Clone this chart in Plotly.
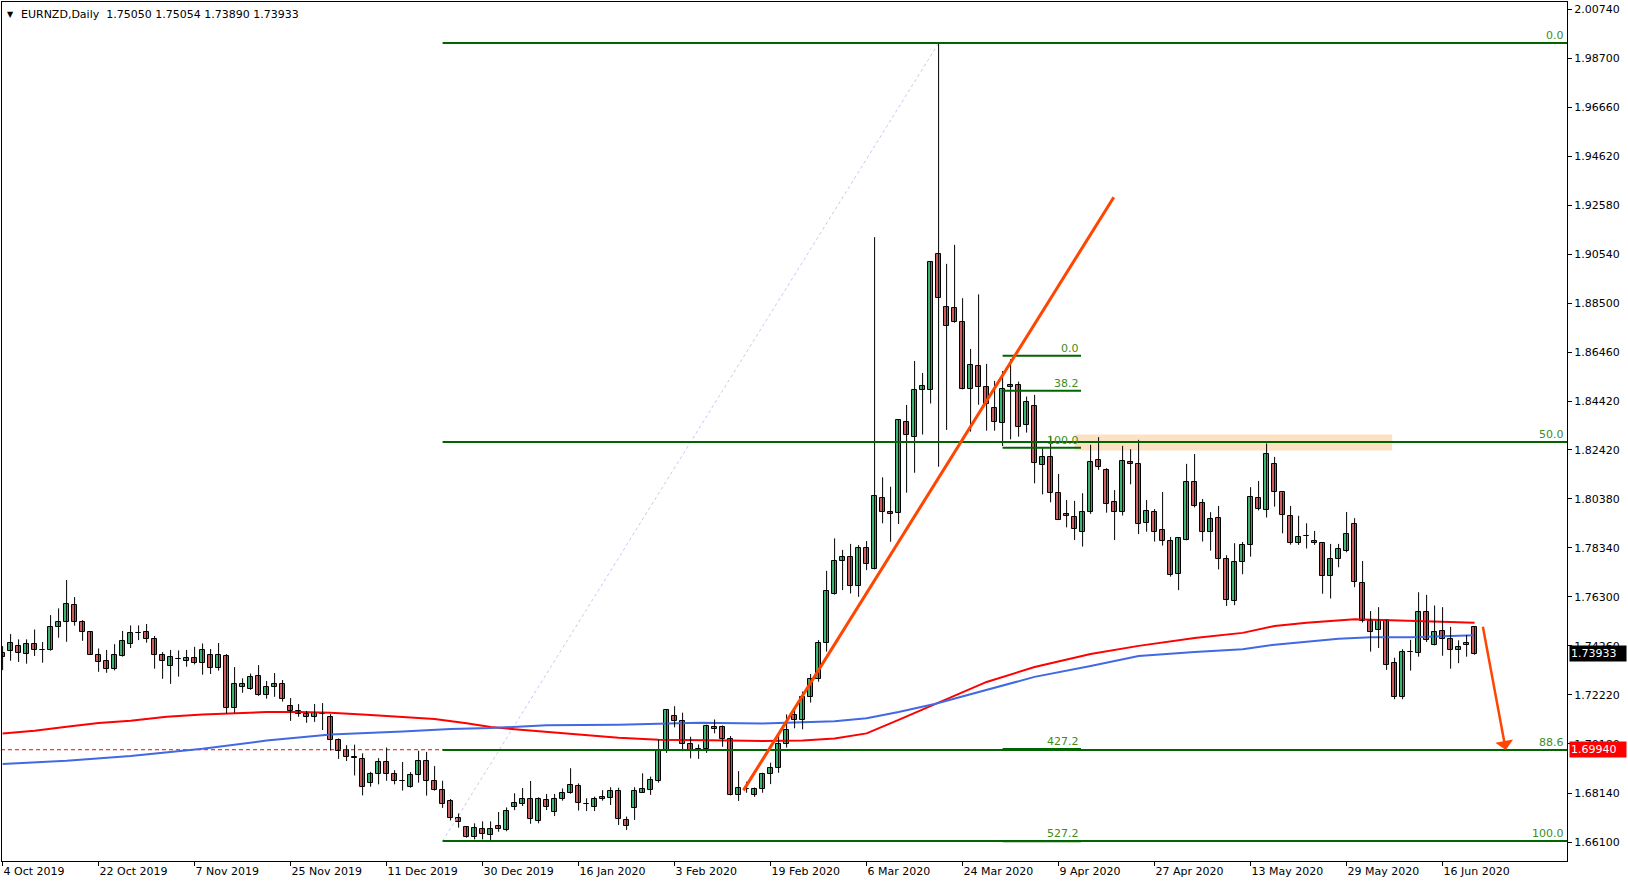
import plotly.graph_objects as go

# ---------------- data ----------------
opens = [1.7395,1.7403,1.7424,1.7393,1.7432,1.7408,1.7410,1.7503,1.7524,1.7594,
         1.7524,1.7482,1.7390,1.7361,1.7328,1.7385,1.7432,1.7481,1.7482,1.7454,
         1.7386,1.7343,1.7372,1.7364,1.7374,1.7353,1.7390,1.7335,1.7382,1.7166,
         1.7257,1.7245,1.7299,1.7220,1.7253,1.7266,1.7174,1.7157,1.7142,1.7132,
         1.7144,1.7130,1.7033,1.6992,1.6962,1.6954,1.6854,1.6891,1.6942,1.6895,
         1.6864,1.6838,1.6888,1.6946,1.6864,1.6826,1.6779,1.6709,1.6673,1.6630,
         1.6663,1.6641,1.6677,1.6659,1.6757,1.6770,1.6788,1.6699,1.6785,1.6734,
         1.6788,1.6813,1.6842,1.6769,1.6757,1.6788,1.6795,1.6821,1.6700,1.6750,
         1.6815,1.6828,1.6865,1.6992,1.7134,1.7113,1.7016,1.6988,1.6998,1.7081,
         1.7087,1.7039,1.6804,1.6832,1.6806,1.6829,1.6895,1.6916,1.7016,1.7137,
         1.7116,1.7212,1.7287,1.7437,1.7640,1.7778,1.7794,1.7676,1.7832,1.7744,
         1.8040,1.7984,1.7977,1.8356,1.8293,1.8489,1.8489,1.9056,1.8834,1.8830,
         1.8775,1.8496,1.8588,1.8502,1.8414,1.8354,1.8502,1.8511,1.8345,1.8425,
         1.8177,1.8213,1.8060,1.7974,1.7963,1.7898,1.7982,1.8198,1.8156,1.8023,
         1.7982,1.8191,1.8181,1.7936,1.7982,1.7907,1.7861,1.7724,1.7865,1.8106,
         1.8019,1.7898,1.7957,1.7789,1.7612,1.7774,1.7845,1.8040,1.7990,1.8182,
         1.8065,1.7965,1.7853,1.7882,1.7861,1.7853,1.7716,1.7786,1.7822,1.7933,
         1.7686,1.7530,1.7491,1.7534,1.7354,1.7215,1.7400,1.7395,1.7566,1.7428,
         1.7487,1.7453,1.7408,1.7428,1.75050]
highs = [1.7425,1.7475,1.7453,1.7453,1.7494,1.7442,1.7554,1.7582,1.7700,1.7629,
         1.7533,1.7485,1.7415,1.7409,1.7433,1.7488,1.7511,1.7511,1.7517,1.7467,
         1.7400,1.7409,1.7407,1.7409,1.7422,1.7436,1.7413,1.7438,1.7392,1.7338,
         1.7291,1.7311,1.7346,1.7280,1.7313,1.7284,1.7209,1.7184,1.7155,1.7184,
         1.7188,1.7142,1.7041,1.7013,1.7015,1.6979,1.6902,1.6959,1.7003,1.6909,
         1.6943,1.6901,1.6990,1.6985,1.6926,1.6865,1.6789,1.6729,1.6673,1.6688,
         1.6696,1.6696,1.6735,1.6754,1.6813,1.6835,1.6864,1.6796,1.6810,1.6810,
         1.6833,1.6917,1.6854,1.6792,1.6799,1.6826,1.6838,1.6836,1.6716,1.6838,
         1.6896,1.6882,1.7035,1.7159,1.7175,1.7148,1.7048,1.7016,1.7098,1.7120,
         1.7095,1.7051,1.6905,1.6861,1.6837,1.6898,1.6940,1.7063,1.7141,1.7166,
         1.7236,1.7309,1.7450,1.7738,1.7873,1.7825,1.7850,1.7845,1.7862,1.9126,
         1.8127,1.8088,1.8368,1.8428,1.8611,1.8561,1.9023,1.9935,1.9015,1.9094,
         1.8872,1.8661,1.8888,1.8599,1.8528,1.8569,1.8618,1.8525,1.8463,1.8470,
         1.8248,1.8300,1.8141,1.8033,1.8029,1.8061,1.8262,1.8294,1.8165,1.8074,
         1.8258,1.8244,1.8283,1.8033,1.7995,1.8066,1.7879,1.7878,1.8183,1.8224,
         1.8037,1.7982,1.8008,1.7803,1.7853,1.7858,1.8086,1.8112,1.8268,1.8212,
         1.8065,1.8008,1.7967,1.7936,1.7904,1.7853,1.7850,1.7850,1.7983,1.7957,
         1.7779,1.7571,1.7587,1.7534,1.7377,1.7412,1.7451,1.7649,1.7638,1.7594,
         1.7587,1.7505,1.7449,1.7471,1.75054]
lows = [1.7325,1.7364,1.7359,1.7352,1.7384,1.7356,1.7406,1.7460,1.7443,1.7510,
        1.7447,1.7388,1.7318,1.7314,1.7324,1.7381,1.7417,1.7450,1.7439,1.7331,
        1.7289,1.7268,1.7298,1.7339,1.7349,1.7306,1.7309,1.7323,1.7145,1.7148,
        1.7231,1.7243,1.7218,1.7206,1.7214,1.7194,1.7114,1.7131,1.7106,1.7110,
        1.7076,1.6991,1.6956,1.6947,1.6887,1.6804,1.6840,1.6850,1.6865,1.6850,
        1.6824,1.6836,1.6857,1.6803,1.6824,1.6752,1.6700,1.6670,1.6628,1.6621,
        1.6621,1.6618,1.6653,1.6655,1.6743,1.6760,1.6686,1.6688,1.6743,1.6718,
        1.6782,1.6811,1.6741,1.6739,1.6739,1.6782,1.6764,1.6681,1.6660,1.6702,
        1.6814,1.6806,1.6857,1.6981,1.7087,1.6988,1.6958,1.6956,1.6981,1.7062,
        1.7006,1.6804,1.6781,1.6815,1.6798,1.6815,1.6851,1.6898,1.7003,1.7083,
        1.7079,1.7190,1.7277,1.7402,1.7639,1.7658,1.7644,1.7630,1.7741,1.7744,
        1.7936,1.7859,1.7933,1.8063,1.8146,1.8305,1.8434,1.8171,1.8324,1.8770,
        1.8493,1.8317,1.8429,1.8321,1.8321,1.8257,1.8285,1.8296,1.8313,1.8102,
        1.8056,1.8023,1.7949,1.7919,1.7866,1.7839,1.7975,1.8158,1.7980,1.7866,
        1.7968,1.8098,1.7891,1.7901,1.7860,1.7843,1.7714,1.7658,1.7865,1.8002,
        1.7860,1.7822,1.7744,1.7592,1.7595,1.7724,1.7797,1.7989,1.7960,1.8005,
        1.7894,1.7847,1.7846,1.7831,1.7846,1.7643,1.7623,1.7753,1.7815,1.7670,
        1.7523,1.7402,1.7417,1.7326,1.7204,1.7204,1.7323,1.7381,1.7442,1.7428,
        1.7385,1.7331,1.7354,1.7381,1.73890]
closes = [1.7381,1.7440,1.7395,1.7432,1.7407,1.7407,1.7503,1.7524,1.7600,1.7524,
          1.7482,1.7390,1.7360,1.7328,1.7386,1.7446,1.7478,1.7478,1.7453,1.7386,
          1.7364,1.7378,1.7371,1.7374,1.7353,1.7407,1.7335,1.7386,1.7166,1.7266,
          1.7266,1.7295,1.7223,1.7255,1.7266,1.7203,1.7157,1.7142,1.7132,1.7146,
          1.7143,1.7033,1.6990,1.6962,1.6961,1.6837,1.6891,1.6942,1.6895,1.6862,
          1.6863,1.6888,1.6946,1.6863,1.6825,1.6768,1.6709,1.6692,1.6630,1.6667,
          1.6642,1.6663,1.6663,1.6738,1.6771,1.6788,1.6704,1.6788,1.6757,1.6788,
          1.6813,1.6846,1.6771,1.6768,1.6788,1.6796,1.6821,1.6704,1.6678,1.6821,
          1.6829,1.6868,1.6993,1.7159,1.7112,1.7016,1.6988,1.6999,1.7092,1.7087,
          1.7039,1.6804,1.6833,1.6831,1.6829,1.6895,1.6917,1.7016,1.7075,1.7116,
          1.7212,1.7287,1.7437,1.7654,1.7779,1.7794,1.7676,1.7832,1.7765,1.8049,
          1.7984,1.7973,1.8366,1.8305,1.8490,1.8506,1.9023,1.8872,1.8758,1.8775,
          1.8495,1.8593,1.8502,1.8432,1.8356,1.8496,1.8511,1.8338,1.8440,1.8185,
          1.8213,1.8060,1.7949,1.7966,1.7911,1.7982,1.8190,1.8169,1.8015,1.7982,
          1.8194,1.8181,1.7932,1.7986,1.7901,1.7861,1.7719,1.7873,1.8106,1.8008,
          1.7898,1.7954,1.7789,1.7617,1.7774,1.7844,1.8044,1.7996,1.8225,1.8065,
          1.7969,1.7853,1.7878,1.7881,1.7853,1.7716,1.7786,1.7828,1.7890,1.7691,
          1.7531,1.7485,1.7534,1.7345,1.7215,1.7399,1.7399,1.7566,1.7451,1.7485,
          1.7453,1.7408,1.7423,1.7438,1.73933]

# moving averages read at some bars
ma_red_bars = [0,4,8,12,16,20.5,25,29,33,37,41,45.5,50,54,58,61,64,68,72.5,77,82,87,91,95,100,104,108,112,116.5,123,129,136,142,149,155,159,163,167,169,173.5,178,182,184]
ma_red_vals = [1.7061,1.7073,1.7090,1.7105,1.7115,1.7131,1.7141,1.7147,1.7151,1.7151,1.7148,1.7140,1.7131,1.7122,1.7104,1.7089,1.7079,1.7068,1.7054,1.7044,1.7036,1.7035,1.7032,1.7030,1.7032,1.7041,1.7062,1.7118,1.7184,1.7276,1.7338,1.7392,1.7426,1.7459,1.7480,1.7509,1.7522,1.7531,1.7537,1.7533,1.7528,1.7525,1.7522]
ma_blue_bars = [0,8,16,25,33,41,50,56,61,68,77,87,95,104,108,112,116.5,123,129,136,142,149,155,159,163,167,171,176,180,184]
ma_blue_vals = [1.6935,1.6948,1.6968,1.6998,1.7032,1.7057,1.7070,1.7080,1.7084,1.7096,1.7098,1.7106,1.7103,1.7112,1.7125,1.7151,1.7184,1.7243,1.7297,1.7342,1.7384,1.7401,1.7412,1.7431,1.7442,1.7456,1.7462,1.7462,1.7466,1.7470]

tick_labels = ["4 Oct 2019","22 Oct 2019","7 Nov 2019","25 Nov 2019","11 Dec 2019",
               "30 Dec 2019","16 Jan 2020","3 Feb 2020","19 Feb 2020","6 Mar 2020",
               "24 Mar 2020","9 Apr 2020","27 Apr 2020","13 May 2020","29 May 2020","16 Jun 2020"]
tick_bars = [12 * k for k in range(len(tick_labels))]
price_ticks = [1.66100,1.68140,1.70180,1.72220,1.74260,1.76300,1.78340,1.80380,1.82420,
               1.84420,1.86460,1.88500,1.90540,1.92580,1.94620,1.96660,1.98700,2.00740]

# drawings
fib_start_bar, fib_end_bar = 55, 117
fib_high, fib_low = 1.9933, 1.6614
fib_levels = [0.0, 50.0, 88.6, 100.0]
fib2_start_bar, fib2_end_bar = 125, 134.8
fib2_zero, fib2_hundred = 1.8633, 1.8250
fib2_levels = [0.0, 38.2, 100.0, 427.2, 527.2]
zone_bars = (134, 173.7)
zone_prices = (1.8239, 1.8305)
trend_bars = (92.6, 138.9)
trend_prices = (1.6825, 1.9292)
arrow_bars = (185.0, 187.9)
arrow_prices = (1.7512, 1.6993)
alert_price = 1.69940
last_price = 1.73933
title_text = "EURNZD,Daily  1.75050 1.75054 1.73890 1.73933"

# ---------------- figure ----------------
W, H = 1628, 888
L, R, T, B = 2, 1567, 2, 861
X_RANGE = [-0.075, 195.55]
Y_RANGE = [1.65312, 2.0104]
FONT = "DejaVu Sans"
GREEN_LINE = "#006400"
FIB_TXT = "#3C8C1E"

def pxx(p):
    return (p - L) / (R - L)

def pxy(p):
    return (B - p) / (B - T)

n = len(opens)
bars = list(range(n))
fig = go.Figure()

# zone
fig.add_shape(type="rect", xref="x", yref="y", x0=zone_bars[0], x1=zone_bars[1],
              y0=zone_prices[0], y1=zone_prices[1], fillcolor="#FCE2C2",
              line=dict(width=0), layer="below")

# red dashed alert line
fig.add_trace(go.Scatter(x=[X_RANGE[0] - 1, X_RANGE[1] + 1], y=[alert_price, alert_price],
                         mode="lines", line=dict(color="#FF0000", width=1, dash="4px,3px")))

# dotted fib diagonal
fig.add_trace(go.Scatter(x=[fib_start_bar, fib_end_bar], y=[fib_low, fib_high], mode="lines",
                         line=dict(color="#C8C8F0", width=1, dash="dot")))

# moving averages
fig.add_trace(go.Scatter(x=ma_red_bars, y=ma_red_vals, mode="lines",
                         line=dict(color="#FF0000", width=2)))
fig.add_trace(go.Scatter(x=ma_blue_bars, y=ma_blue_vals, mode="lines",
                         line=dict(color="#4169E1", width=2)))

# wicks
wx, wy = [], []
for i in bars:
    wx += [i, i, None]
    wy += [lows[i], highs[i], None]
fig.add_trace(go.Scatter(x=wx, y=wy, mode="lines", line=dict(color="black", width=1)))

# bodies
MIN_H = 0.00004
for up, col in ((True, "#3CB371"), (False, "#CD5C5C")):
    xs, hs, bs = [], [], []
    for i in bars:
        o, c = opens[i], closes[i]
        if (c >= o) == up:
            xs.append(i)
            hs.append(max(abs(c - o), MIN_H))
            bs.append(min(o, c))
    fig.add_trace(go.Bar(x=xs, y=hs, base=bs, width=0.55,
                         marker=dict(color=col, line=dict(color="black", width=1))))

# big fib lines
for lv in fib_levels:
    p = fib_high - lv / 100.0 * (fib_high - fib_low)
    fig.add_trace(go.Scatter(x=[fib_start_bar, X_RANGE[1] + 2], y=[p, p], mode="lines",
                             line=dict(color=GREEN_LINE, width=2)))
    fig.add_annotation(xref="paper", yref="y", x=pxx(R - 1), y=p, text=f"{lv:.1f}",
                       showarrow=False, xanchor="right", yanchor="bottom", yshift=-1,
                       font=dict(family=FONT, size=11, color=FIB_TXT))

# small fib
for lv in fib2_levels:
    p = fib2_zero - lv / 100.0 * (fib2_zero - fib2_hundred)
    fig.add_trace(go.Scatter(x=[fib2_start_bar, fib2_end_bar], y=[p, p], mode="lines",
                             line=dict(color=GREEN_LINE, width=2)))
    fig.add_annotation(xref="x", yref="y", x=fib2_end_bar, y=p, text=f"{lv:.1f}",
                       showarrow=False, xanchor="right", yanchor="bottom", yshift=-1,
                       font=dict(family=FONT, size=11, color=FIB_TXT))

# trend line
fig.add_trace(go.Scatter(x=list(trend_bars), y=list(trend_prices), mode="lines",
                         line=dict(color="#FF4500", width=3)))

# arrow
fig.add_annotation(xref="x", yref="y", axref="x", ayref="y",
                   x=arrow_bars[1], y=arrow_prices[1], ax=arrow_bars[0], ay=arrow_prices[0],
                   showarrow=True, arrowhead=1, arrowsize=1.2, arrowwidth=2.5,
                   arrowcolor="#FF4500", text="")

# price boxes on axis
for price, bg in ((last_price, "black"), (alert_price, "#FF0000")):
    fig.add_annotation(xref="paper", yref="y", x=pxx(1569), y=price, text=f"{price:.5f}",
                       showarrow=False, xanchor="left", yanchor="middle", bgcolor=bg,
                       borderpad=1, width=54, align="left",
                       font=dict(family=FONT, size=11, color="white"))

# title
fig.add_annotation(xref="paper", yref="paper", x=pxx(19), y=pxy(14), text=title_text,
                   showarrow=False, xanchor="left", yanchor="middle",
                   font=dict(family=FONT, size=11, color="black"))
fig.add_annotation(xref="paper", yref="paper", x=pxx(5), y=pxy(14), text="▼",
                   showarrow=False, xanchor="left", yanchor="middle",
                   font=dict(family=FONT, size=8, color="black"))

fig.update_layout(
    width=W, height=H, margin=dict(l=L, r=W - R, t=T, b=H - B, autoexpand=False),
    paper_bgcolor="white", plot_bgcolor="white", showlegend=False,
    barmode="overlay", bargap=0, hovermode=False,
    font=dict(family=FONT, size=11, color="black"),
    xaxis=dict(range=X_RANGE, tickvals=tick_bars, ticktext=tick_labels, ticks="outside",
               ticklen=4, tickcolor="black", showline=True, linecolor="black", linewidth=1,
               mirror=True, showgrid=False, zeroline=False, ticklabelposition="outside right",
               automargin=False, tickfont=dict(family=FONT, size=11, color="black")),
    yaxis=dict(range=Y_RANGE, side="right", tickvals=price_ticks,
               ticktext=[f"{v:.5f}" for v in price_ticks], ticks="outside", ticklen=4,
               tickcolor="black", showline=True, linecolor="black", linewidth=1, mirror=True,
               showgrid=False, zeroline=False, automargin=False,
               tickfont=dict(family=FONT, size=11, color="black")),
)

fig.write_html("out.html", config={"displayModeBar": False},
               post_script="document.body.style.margin='0';document.body.style.overflow='hidden';")
